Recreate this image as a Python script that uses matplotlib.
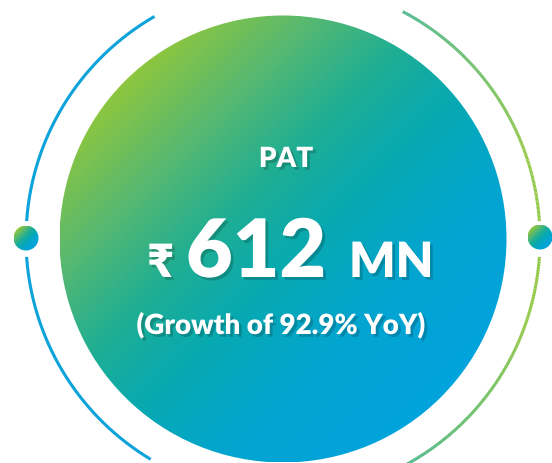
import numpy as np
import matplotlib
matplotlib.use('Agg')
import matplotlib.pyplot as plt
import matplotlib.patheffects as pe
from matplotlib.colors import LinearSegmentedColormap
from matplotlib.collections import LineCollection
from matplotlib.patches import Circle

# data
metric = 'PAT'
currency = '₹'
value = 612
unit = 'MN'
growth_pct = 92.9

W, H = 552, 464
cx, cy, r = 283, 240, 223.5
ring_r = 257
dot_r = 12.5

fill_cmap = LinearSegmentedColormap.from_list('fill', [
    (0.0, '#8dc63f'), (0.2, '#55b872'), (0.38, '#1eae94'),
    (0.55, '#07a9b2'), (0.75, '#03a5d0'), (1.0, '#01a3dd')])
ring_cmap = LinearSegmentedColormap.from_list('ring', ['#45b487', '#8dc63f'])

fig = plt.figure(figsize=(W / 100, H / 100), dpi=100)
ax = fig.add_axes([0, 0, 1, 1])
ax.axis('off')


def gradient_disc(x0, y0, rad):
    yy, xx = np.mgrid[y0 - rad:y0 + rad:400j, x0 - rad:x0 + rad:400j]
    t = ((xx - x0) + (yy - y0)) / (2 * np.sqrt(2) * rad) + 0.5
    im = ax.imshow(t, cmap=fill_cmap, vmin=0, vmax=1, origin='upper',
                   extent=(x0 - rad, x0 + rad, y0 + rad, y0 - rad),
                   interpolation='bilinear', zorder=2)
    im.set_clip_path(Circle((x0, y0), rad, transform=ax.transData))


def arc_pts(t1, t2):
    th = np.radians(np.linspace(t1, t2, 200))
    return th, cx + ring_r * np.cos(th), cy + ring_r * np.sin(th)


# left ring (plain blue), broken around the dot
for t1, t2 in [(184, 240), (121, 176)]:
    th, x, y = arc_pts(t1, t2)
    ax.plot(x, y, color='#0ba3d9', lw=2.2, solid_capstyle='butt', zorder=1)

# right ring, teal-green at both ends, lime in the middle
for t1, t2 in [(-62.2, -4), (4, 75)]:
    th, x, y = arc_pts(t1, t2)
    pts = np.column_stack([x, y]).reshape(-1, 1, 2)
    segs = np.concatenate([pts[:-1], pts[1:]], axis=1)
    d = np.abs(np.degrees(th[:-1]))
    c = np.clip((62 - d) / 42, 0, 1)
    lc = LineCollection(segs, colors=ring_cmap(c), linewidths=2.2, zorder=1)
    ax.add_collection(lc)

gradient_disc(cx, cy, r)
gradient_disc(cx - ring_r, cy - 1, dot_r)
gradient_disc(cx + ring_r, cy - 2, dot_r)

fam = ['Lato', 'DejaVu Sans']
shadow = [pe.withSimplePatchShadow(offset=(2, -2), shadow_rgbFace='k', alpha=0.18)]
kw = dict(color='white', fontweight='heavy', family=fam, zorder=5, path_effects=shadow)

ax.text(286, 168, metric, ha='center', va='baseline', fontsize=20, **kw)
ax.text(174, 278, currency, ha='right', va='baseline', fontsize=33, **kw)
ax.text(256, 278, str(value), ha='center', va='baseline', fontsize=58, **kw)
ax.text(349, 278, unit, ha='left', va='baseline', fontsize=35, **kw)
ax.text(281, 335, f'(Growth of {growth_pct}% YoY)', ha='center', va='baseline',
        fontsize=20, **kw)

ax.set_xlim(0, W)
ax.set_ylim(H, 0)
ax.set_aspect('auto')
fig.savefig('out.png', dpi=100)
